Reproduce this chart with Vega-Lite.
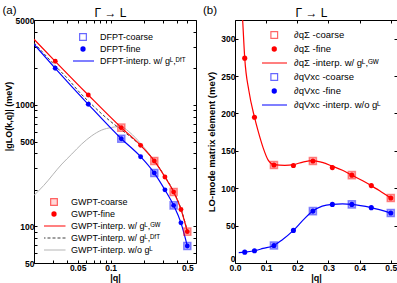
{
  "$schema": "https://vega.github.io/schema/vega-lite/v6.json",
  "padding": {"left": 1, "top": 3, "right": 0, "bottom": 0},
  "spacing": 39,
  "bounds": "flush",
  "resolve": {"scale": {"stroke": "independent", "color": "independent"}, "legend": {"stroke": "independent", "color": "independent"}},
  "config": {
    "font": "Liberation Sans",
    "view": {"stroke": "#000", "strokeWidth": 1},
    "axis": {"domain": false, "grid": false, "tickColor": "#000", "tickSize": -3, "tickWidth": 1, "labelFontSize": 8.5, "labelFontWeight": "bold", "labelColor": "#000", "titleFontSize": 9, "titleFontWeight": "bold", "titleColor": "#000", "labelPadding": 3, "labelOverlap": false, "labelFlush": false},
    "legend": {"labelFont": "Liberation Sans", "labelColor": "#000", "labelFontSize": 9, "padding": 0, "rowPadding": 2}
  },
  "datasets": {
    "aBlueFine": [
      {"q": 0.03125, "v": 2002, "s": "DFPT-fine"}, {"q": 0.0625, "v": 1012, "s": "DFPT-fine"}, {"q": 0.125, "v": 527, "s": "DFPT-fine"},
      {"q": 0.1875, "v": 375, "s": "DFPT-fine"}, {"q": 0.25, "v": 275, "s": "DFPT-fine"}, {"q": 0.3125, "v": 200, "s": "DFPT-fine"},
      {"q": 0.375, "v": 149, "s": "DFPT-fine"}, {"q": 0.4375, "v": 107, "s": "DFPT-fine"}, {"q": 0.5, "v": 69, "s": "DFPT-fine"}
    ],
    "aBlueCoarse": [
      {"q": 0.125, "v": 527, "s": "DFPT-coarse"}, {"q": 0.25, "v": 275, "s": "DFPT-coarse"}, {"q": 0.375, "v": 149, "s": "DFPT-coarse"}, {"q": 0.5, "v": 69, "s": "DFPT-coarse"}
    ],
    "aBlueLine": [
      {"q": 0.02, "v": 3158, "s": "DFPT-interp. w/ gᴸ,ᴰᶠᵀ"}, {"q": 0.03125, "v": 2002, "s": "DFPT-interp. w/ gᴸ,ᴰᶠᵀ"}, {"q": 0.0625, "v": 1012, "s": "DFPT-interp. w/ gᴸ,ᴰᶠᵀ"},
      {"q": 0.125, "v": 527, "s": "DFPT-interp. w/ gᴸ,ᴰᶠᵀ"}, {"q": 0.1875, "v": 375, "s": "DFPT-interp. w/ gᴸ,ᴰᶠᵀ"}, {"q": 0.25, "v": 275, "s": "DFPT-interp. w/ gᴸ,ᴰᶠᵀ"},
      {"q": 0.3125, "v": 200, "s": "DFPT-interp. w/ gᴸ,ᴰᶠᵀ"}, {"q": 0.375, "v": 149, "s": "DFPT-interp. w/ gᴸ,ᴰᶠᵀ"}, {"q": 0.4375, "v": 107, "s": "DFPT-interp. w/ gᴸ,ᴰᶠᵀ"},
      {"q": 0.5, "v": 69, "s": "DFPT-interp. w/ gᴸ,ᴰᶠᵀ"}
    ],
    "aRedFine": [
      {"q": 0.03125, "v": 2286, "s": "GWPT-fine"}, {"q": 0.0625, "v": 1207, "s": "GWPT-fine"}, {"q": 0.125, "v": 650, "s": "GWPT-fine"},
      {"q": 0.1875, "v": 465, "s": "GWPT-fine"}, {"q": 0.25, "v": 346, "s": "GWPT-fine"}, {"q": 0.3125, "v": 255, "s": "GWPT-fine"},
      {"q": 0.375, "v": 192, "s": "GWPT-fine"}, {"q": 0.4375, "v": 138, "s": "GWPT-fine"}, {"q": 0.5, "v": 90.6, "s": "GWPT-fine"}
    ],
    "aRedCoarse": [
      {"q": 0.125, "v": 650, "s": "GWPT-coarse"}, {"q": 0.25, "v": 346, "s": "GWPT-coarse"}, {"q": 0.375, "v": 192, "s": "GWPT-coarse"}, {"q": 0.5, "v": 90.6, "s": "GWPT-coarse"}
    ],
    "aRedLine": [
      {"q": 0.02, "v": 3470, "s": "GWPT-interp. w/ gᴸ,ᴳᵂ"}, {"q": 0.03125, "v": 2286, "s": "GWPT-interp. w/ gᴸ,ᴳᵂ"}, {"q": 0.0625, "v": 1207, "s": "GWPT-interp. w/ gᴸ,ᴳᵂ"},
      {"q": 0.125, "v": 650, "s": "GWPT-interp. w/ gᴸ,ᴳᵂ"}, {"q": 0.1875, "v": 465, "s": "GWPT-interp. w/ gᴸ,ᴳᵂ"}, {"q": 0.25, "v": 346, "s": "GWPT-interp. w/ gᴸ,ᴳᵂ"},
      {"q": 0.3125, "v": 255, "s": "GWPT-interp. w/ gᴸ,ᴳᵂ"}, {"q": 0.375, "v": 192, "s": "GWPT-interp. w/ gᴸ,ᴳᵂ"}, {"q": 0.4375, "v": 138, "s": "GWPT-interp. w/ gᴸ,ᴳᵂ"},
      {"q": 0.5, "v": 90.6, "s": "GWPT-interp. w/ gᴸ,ᴳᵂ"}
    ],
    "aDashLine": [
      {"q": 0.02, "v": 3250, "s": "GWPT-interp. w/ gᴸ,ᴰᶠᵀ"}, {"q": 0.03125, "v": 2100, "s": "GWPT-interp. w/ gᴸ,ᴰᶠᵀ"}, {"q": 0.0413, "v": 1617, "s": "GWPT-interp. w/ gᴸ,ᴰᶠᵀ"},
      {"q": 0.0526, "v": 1257, "s": "GWPT-interp. w/ gᴸ,ᴰᶠᵀ"}, {"q": 0.0625, "v": 1075, "s": "GWPT-interp. w/ gᴸ,ᴰᶠᵀ"}, {"q": 0.1, "v": 730, "s": "GWPT-interp. w/ gᴸ,ᴰᶠᵀ"},
      {"q": 0.125, "v": 625, "s": "GWPT-interp. w/ gᴸ,ᴰᶠᵀ"}, {"q": 0.1875, "v": 462, "s": "GWPT-interp. w/ gᴸ,ᴰᶠᵀ"}, {"q": 0.25, "v": 347, "s": "GWPT-interp. w/ gᴸ,ᴰᶠᵀ"},
      {"q": 0.3125, "v": 257, "s": "GWPT-interp. w/ gᴸ,ᴰᶠᵀ"}, {"q": 0.375, "v": 194, "s": "GWPT-interp. w/ gᴸ,ᴰᶠᵀ"}, {"q": 0.4375, "v": 140, "s": "GWPT-interp. w/ gᴸ,ᴰᶠᵀ"},
      {"q": 0.5, "v": 92, "s": "GWPT-interp. w/ gᴸ,ᴰᶠᵀ"}
    ],
    "aGrayLine": [
      {"q": 0.02, "v": 180, "s": "GWPT-interp. w/o gᴸ"}, {"q": 0.0245, "v": 217, "s": "GWPT-interp. w/o gᴸ"}, {"q": 0.0359, "v": 326, "s": "GWPT-interp. w/o gᴸ"},
      {"q": 0.0442, "v": 394, "s": "GWPT-interp. w/o gᴸ"}, {"q": 0.0545, "v": 477, "s": "GWPT-interp. w/o gᴸ"}, {"q": 0.0672, "v": 557, "s": "GWPT-interp. w/o gᴸ"},
      {"q": 0.0828, "v": 621, "s": "GWPT-interp. w/o gᴸ"}, {"q": 0.102, "v": 652, "s": "GWPT-interp. w/o gᴸ"}, {"q": 0.115, "v": 662, "s": "GWPT-interp. w/o gᴸ"},
      {"q": 0.13, "v": 650, "s": "GWPT-interp. w/o gᴸ"}, {"q": 0.15, "v": 592, "s": "GWPT-interp. w/o gᴸ"}, {"q": 0.1875, "v": 482, "s": "GWPT-interp. w/o gᴸ"},
      {"q": 0.22, "v": 405, "s": "GWPT-interp. w/o gᴸ"}, {"q": 0.25, "v": 348, "s": "GWPT-interp. w/o gᴸ"}, {"q": 0.3125, "v": 257, "s": "GWPT-interp. w/o gᴸ"},
      {"q": 0.375, "v": 193, "s": "GWPT-interp. w/o gᴸ"}, {"q": 0.4375, "v": 139, "s": "GWPT-interp. w/o gᴸ"}, {"q": 0.5, "v": 91, "s": "GWPT-interp. w/o gᴸ"}
    ],
    "bRedFine": [
      {"q": 0.03125, "v": 274, "s": "∂qΣ -fine"}, {"q": 0.0625, "v": 195, "s": "∂qΣ -fine"}, {"q": 0.125, "v": 131, "s": "∂qΣ -fine"},
      {"q": 0.1875, "v": 130.5, "s": "∂qΣ -fine"}, {"q": 0.25, "v": 136.5, "s": "∂qΣ -fine"}, {"q": 0.3125, "v": 127.6, "s": "∂qΣ -fine"},
      {"q": 0.375, "v": 117.5, "s": "∂qΣ -fine"}, {"q": 0.4375, "v": 103.5, "s": "∂qΣ -fine"}, {"q": 0.5, "v": 86.9, "s": "∂qΣ -fine"}
    ],
    "bRedCoarse": [
      {"q": 0.125, "v": 131, "s": "∂qΣ -coarse"}, {"q": 0.25, "v": 136.5, "s": "∂qΣ -coarse"}, {"q": 0.375, "v": 117.5, "s": "∂qΣ -coarse"}, {"q": 0.5, "v": 86.9, "s": "∂qΣ -coarse"}
    ],
    "bRedLine": [
      {"q": 0.02, "v": 362, "s": "∂qΣ -interp. w/ gᴸ,ᴳᵂ"}, {"q": 0.0246, "v": 325, "s": "∂qΣ -interp. w/ gᴸ,ᴳᵂ"}, {"q": 0.03125, "v": 274, "s": "∂qΣ -interp. w/ gᴸ,ᴳᵂ"},
      {"q": 0.0447, "v": 230, "s": "∂qΣ -interp. w/ gᴸ,ᴳᵂ"}, {"q": 0.0625, "v": 195, "s": "∂qΣ -interp. w/ gᴸ,ᴳᵂ"}, {"q": 0.0745, "v": 176, "s": "∂qΣ -interp. w/ gᴸ,ᴳᵂ"},
      {"q": 0.0904, "v": 154, "s": "∂qΣ -interp. w/ gᴸ,ᴳᵂ"}, {"q": 0.106, "v": 138, "s": "∂qΣ -interp. w/ gᴸ,ᴳᵂ"}, {"q": 0.125, "v": 131.5, "s": "∂qΣ -interp. w/ gᴸ,ᴳᵂ"},
      {"q": 0.16, "v": 130.5, "s": "∂qΣ -interp. w/ gᴸ,ᴳᵂ"}, {"q": 0.1875, "v": 131.5, "s": "∂qΣ -interp. w/ gᴸ,ᴳᵂ"}, {"q": 0.218, "v": 135, "s": "∂qΣ -interp. w/ gᴸ,ᴳᵂ"},
      {"q": 0.25, "v": 137, "s": "∂qΣ -interp. w/ gᴸ,ᴳᵂ"}, {"q": 0.28, "v": 134.5, "s": "∂qΣ -interp. w/ gᴸ,ᴳᵂ"}, {"q": 0.3125, "v": 129.5, "s": "∂qΣ -interp. w/ gᴸ,ᴳᵂ"},
      {"q": 0.345, "v": 124, "s": "∂qΣ -interp. w/ gᴸ,ᴳᵂ"}, {"q": 0.375, "v": 117.5, "s": "∂qΣ -interp. w/ gᴸ,ᴳᵂ"}, {"q": 0.41, "v": 110, "s": "∂qΣ -interp. w/ gᴸ,ᴳᵂ"},
      {"q": 0.4375, "v": 103.5, "s": "∂qΣ -interp. w/ gᴸ,ᴳᵂ"}, {"q": 0.47, "v": 95, "s": "∂qΣ -interp. w/ gᴸ,ᴳᵂ"}, {"q": 0.5, "v": 86.9, "s": "∂qΣ -interp. w/ gᴸ,ᴳᵂ"}
    ],
    "bBlueFine": [
      {"q": 0.03125, "v": 14.5, "s": "∂qVxc -fine"}, {"q": 0.0625, "v": 16.4, "s": "∂qVxc -fine"}, {"q": 0.125, "v": 23.5, "s": "∂qVxc -fine"},
      {"q": 0.1875, "v": 43.6, "s": "∂qVxc -fine"}, {"q": 0.25, "v": 69.4, "s": "∂qVxc -fine"}, {"q": 0.3125, "v": 78.4, "s": "∂qVxc -fine"},
      {"q": 0.375, "v": 78.4, "s": "∂qVxc -fine"}, {"q": 0.4375, "v": 74, "s": "∂qVxc -fine"}, {"q": 0.5, "v": 66.8, "s": "∂qVxc -fine"}
    ],
    "bBlueCoarse": [
      {"q": 0.125, "v": 23.5, "s": "∂qVxc -coarse"}, {"q": 0.25, "v": 69.4, "s": "∂qVxc -coarse"}, {"q": 0.375, "v": 78.4, "s": "∂qVxc -coarse"}, {"q": 0.5, "v": 66.8, "s": "∂qVxc -coarse"}
    ],
    "bBlueLine": [
      {"q": 0.012, "v": 14, "s": "∂qVxc -interp. w/o gᴸ"}, {"q": 0.03125, "v": 14.5, "s": "∂qVxc -interp. w/o gᴸ"}, {"q": 0.0625, "v": 16.4, "s": "∂qVxc -interp. w/o gᴸ"},
      {"q": 0.09, "v": 19.5, "s": "∂qVxc -interp. w/o gᴸ"}, {"q": 0.125, "v": 23.5, "s": "∂qVxc -interp. w/o gᴸ"}, {"q": 0.15, "v": 30.5, "s": "∂qVxc -interp. w/o gᴸ"},
      {"q": 0.1875, "v": 43.6, "s": "∂qVxc -interp. w/o gᴸ"}, {"q": 0.22, "v": 58, "s": "∂qVxc -interp. w/o gᴸ"}, {"q": 0.25, "v": 69.4, "s": "∂qVxc -interp. w/o gᴸ"},
      {"q": 0.28, "v": 76, "s": "∂qVxc -interp. w/o gᴸ"}, {"q": 0.3125, "v": 78.4, "s": "∂qVxc -interp. w/o gᴸ"}, {"q": 0.345, "v": 79, "s": "∂qVxc -interp. w/o gᴸ"},
      {"q": 0.375, "v": 78.4, "s": "∂qVxc -interp. w/o gᴸ"}, {"q": 0.4375, "v": 74, "s": "∂qVxc -interp. w/o gᴸ"}, {"q": 0.5, "v": 66.8, "s": "∂qVxc -interp. w/o gᴸ"}
    ]
  },
  "hconcat": [
    {
      "width": 162,
      "height": 243,
      "resolve": {"axis": {"x": "independent", "y": "independent"}},
      "layer": [
        {
          "data": {"name": "aGrayLine"},
          "mark": {"type": "line", "interpolate": "monotone", "strokeWidth": 1, "clip": true},
          "encoding": {
            "x": {"field": "q", "type": "quantitative", "scale": {"type": "log", "domain": [0.02, 0.6], "nice": false},
                  "axis": {"orient": "bottom", "title": "|q|", "titlePadding": 2, "values": [0.02, 0.03, 0.04, 0.05, 0.06, 0.07, 0.08, 0.09, 0.1, 0.2, 0.3, 0.4, 0.5],
                           "labelExpr": "datum.value === 0.05 ? '0.05' : datum.value === 0.1 ? '0.1' : datum.value === 0.5 ? '0.5' : ''"}},
            "y": {"field": "v", "type": "quantitative", "scale": {"type": "log", "domain": [50, 5000], "nice": false},
                  "axis": {"orient": "left", "title": "|gLO(k,q)| (meV)", "titlePadding": 2, "titleY": 96,
                           "values": [50, 60, 70, 80, 90, 100, 200, 300, 400, 500, 600, 700, 800, 900, 1000, 2000, 3000, 4000, 5000],
                           "labelExpr": "datum.value === 50 || datum.value === 100 || datum.value === 500 || datum.value === 1000 || datum.value === 5000 ? '' + datum.value : ''"}},
            "color": {"field": "s", "type": "nominal",
                       "scale": {"domain": ["GWPT-coarse", "GWPT-fine", "GWPT-interp. w/ gᴸ,ᴳᵂ", "GWPT-interp. w/ gᴸ,ᴰᶠᵀ", "GWPT-interp. w/o gᴸ"], "range": ["#ff0000", "#ff0000", "#ff0000", "#404040", "#b4b4b4"]},
                       "legend": {"title": null, "orient": "none", "legendX": 10, "legendY": 177, "clipHeight": 10, "symbolOffset": 5.5, "labelOffset": 12.5,
                                  "encode": {"symbols": {"update": {
                                    "shape": {"signal": "datum.index === 0 ? 'square' : datum.index === 1 ? 'circle' : 'stroke'"},
                                    "size": {"signal": "datum.index === 0 ? 45 : datum.index === 1 ? 28 : 530"},
                                    "fill": {"signal": "datum.index <= 1 ? '#ff0000' : 'transparent'"},
                                    "fillOpacity": {"signal": "datum.index === 0 ? 0.15 : datum.index === 1 ? 1 : 0"},
                                    "stroke": {"signal": "datum.index === 3 ? '#404040' : datum.index === 4 ? '#b4b4b4' : '#ff0000'"},
                                    "strokeOpacity": {"signal": "datum.index === 0 ? 0.6 : 1"},
                                    "strokeDash": {"signal": "datum.index === 3 ? [3, 2] : [1, 0]"},
                                    "strokeWidth": {"signal": "datum.index === 1 ? 0 : 1.2"},
                                    "opacity": {"value": 1}
                                  }}}}}
          }
        },
        {
          "data": {"name": "aDashLine"},
          "mark": {"type": "line", "interpolate": "monotone", "strokeWidth": 1, "strokeDash": [3, 2], "clip": true},
          "encoding": {
            "x": {"field": "q", "type": "quantitative", "scale": {"type": "log", "domain": [0.02, 0.6], "nice": false},
                  "axis": {"orient": "top", "labels": false, "values": [0.02, 0.03, 0.04, 0.05, 0.06, 0.07, 0.08, 0.09, 0.1, 0.2, 0.3, 0.4, 0.5],
                           "title": "Γ → L", "titleFontSize": 12, "titleFontWeight": "normal", "titleX": 76, "titleY": -4, "titleAlign": "center", "titleBaseline": "alphabetic"}},
            "y": {"field": "v", "type": "quantitative", "scale": {"type": "log", "domain": [50, 5000], "nice": false},
                  "axis": {"orient": "right", "labels": false, "values": [50, 60, 70, 80, 90, 100, 200, 300, 400, 500, 600, 700, 800, 900, 1000, 2000, 3000, 4000, 5000],
                           "title": "(a)", "titleFontSize": 11.5, "titleFontWeight": "normal", "titleAngle": 0, "titleX": -194, "titleY": -10, "titleAlign": "left", "titleBaseline": "middle"}},
            "color": {"field": "s", "type": "nominal", "legend": null,
                       "scale": {"domain": ["GWPT-coarse", "GWPT-fine", "GWPT-interp. w/ gᴸ,ᴳᵂ", "GWPT-interp. w/ gᴸ,ᴰᶠᵀ", "GWPT-interp. w/o gᴸ"], "range": ["#ff0000", "#ff0000", "#ff0000", "#404040", "#b4b4b4"]}}
          }
        },
        {
          "data": {"name": "aRedLine"},
          "mark": {"type": "line", "interpolate": "monotone", "strokeWidth": 1.2, "clip": true},
          "encoding": {
            "x": {"field": "q", "type": "quantitative", "scale": {"type": "log", "domain": [0.02, 0.6], "nice": false}, "axis": null},
            "y": {"field": "v", "type": "quantitative", "scale": {"type": "log", "domain": [50, 5000], "nice": false}, "axis": null},
            "color": {"field": "s", "type": "nominal", "legend": null,
                       "scale": {"domain": ["GWPT-coarse", "GWPT-fine", "GWPT-interp. w/ gᴸ,ᴳᵂ", "GWPT-interp. w/ gᴸ,ᴰᶠᵀ", "GWPT-interp. w/o gᴸ"], "range": ["#ff0000", "#ff0000", "#ff0000", "#404040", "#b4b4b4"]}}
          }
        },
        {
          "data": {"name": "aBlueLine"},
          "mark": {"type": "line", "interpolate": "monotone", "strokeWidth": 1.2, "clip": true},
          "encoding": {
            "x": {"field": "q", "type": "quantitative", "scale": {"type": "log", "domain": [0.02, 0.6], "nice": false}, "axis": null},
            "y": {"field": "v", "type": "quantitative", "scale": {"type": "log", "domain": [50, 5000], "nice": false}, "axis": null},
            "stroke": {"field": "s", "type": "nominal",
                      "scale": {"domain": ["DFPT-coarse", "DFPT-fine", "DFPT-interp. w/ gᴸ,ᴰᶠᵀ"], "range": ["#0000ff", "#0000ff", "#0000ff"]},
                      "legend": {"title": null, "orient": "none", "legendX": 39, "legendY": 12, "clipHeight": 10, "symbolOffset": 5.5, "labelOffset": 12.5,
                                 "encode": {"symbols": {"update": {
                                   "shape": {"signal": "datum.index === 0 ? 'square' : datum.index === 1 ? 'circle' : 'stroke'"},
                                   "size": {"signal": "datum.index === 0 ? 45 : datum.index === 1 ? 28 : 484"},
                                   "fill": {"signal": "datum.index === 1 ? '#0000ff' : 'transparent'"},
                                   "strokeOpacity": {"signal": "datum.index === 0 ? 0.6 : 1"},
                                   "strokeWidth": {"signal": "datum.index === 1 ? 0 : 1.2"},
                                   "opacity": {"value": 1}
                                 }}}}}
          }
        },
        {
          "data": {"name": "aBlueCoarse"},
          "mark": {"type": "point", "shape": "square", "filled": true, "size": 50, "fill": "#0000ff", "fillOpacity": 0.25, "strokeOpacity": 0.45, "strokeWidth": 1.5, "opacity": 1},
          "encoding": {
            "x": {"field": "q", "type": "quantitative", "scale": {"type": "log", "domain": [0.02, 0.6], "nice": false}, "axis": null},
            "y": {"field": "v", "type": "quantitative", "scale": {"type": "log", "domain": [50, 5000], "nice": false}, "axis": null},
            "stroke": {"field": "s", "type": "nominal", "legend": null,
                      "scale": {"domain": ["DFPT-coarse", "DFPT-fine", "DFPT-interp. w/ gᴸ,ᴰᶠᵀ"], "range": ["#0000ff", "#0000ff", "#0000ff"]}}
          }
        },
        {
          "data": {"name": "aRedCoarse"},
          "mark": {"type": "point", "shape": "square", "filled": true, "size": 50, "stroke": "#ff0000", "fillOpacity": 0.25, "strokeOpacity": 0.45, "strokeWidth": 1.5, "opacity": 1},
          "encoding": {
            "x": {"field": "q", "type": "quantitative", "scale": {"type": "log", "domain": [0.02, 0.6], "nice": false}, "axis": null},
            "y": {"field": "v", "type": "quantitative", "scale": {"type": "log", "domain": [50, 5000], "nice": false}, "axis": null},
            "color": {"field": "s", "type": "nominal", "legend": null,
                       "scale": {"domain": ["GWPT-coarse", "GWPT-fine", "GWPT-interp. w/ gᴸ,ᴳᵂ", "GWPT-interp. w/ gᴸ,ᴰᶠᵀ", "GWPT-interp. w/o gᴸ"], "range": ["#ff0000", "#ff0000", "#ff0000", "#404040", "#b4b4b4"]}}
          }
        },
        {
          "data": {"name": "aBlueFine"},
          "mark": {"type": "point", "shape": "circle", "filled": true, "fill": "#0000ff", "size": 24, "strokeWidth": 0, "opacity": 1},
          "encoding": {
            "x": {"field": "q", "type": "quantitative", "scale": {"type": "log", "domain": [0.02, 0.6], "nice": false}, "axis": null},
            "y": {"field": "v", "type": "quantitative", "scale": {"type": "log", "domain": [50, 5000], "nice": false}, "axis": null},
            "stroke": {"field": "s", "type": "nominal", "legend": null,
                      "scale": {"domain": ["DFPT-coarse", "DFPT-fine", "DFPT-interp. w/ gᴸ,ᴰᶠᵀ"], "range": ["#0000ff", "#0000ff", "#0000ff"]}}
          }
        },
        {
          "data": {"name": "aRedFine"},
          "mark": {"type": "point", "shape": "circle", "filled": true, "size": 24, "strokeWidth": 0, "opacity": 1},
          "encoding": {
            "x": {"field": "q", "type": "quantitative", "scale": {"type": "log", "domain": [0.02, 0.6], "nice": false}, "axis": null},
            "y": {"field": "v", "type": "quantitative", "scale": {"type": "log", "domain": [50, 5000], "nice": false}, "axis": null},
            "color": {"field": "s", "type": "nominal", "legend": null,
                       "scale": {"domain": ["GWPT-coarse", "GWPT-fine", "GWPT-interp. w/ gᴸ,ᴳᵂ", "GWPT-interp. w/ gᴸ,ᴰᶠᵀ", "GWPT-interp. w/o gᴸ"], "range": ["#ff0000", "#ff0000", "#ff0000", "#404040", "#b4b4b4"]}}
          }
        }
      ]
    },
    {
      "width": 162,
      "height": 243,
      "resolve": {"axis": {"x": "independent", "y": "independent"}},
      "layer": [
        {
          "data": {"name": "bRedLine"},
          "mark": {"type": "line", "interpolate": "monotone", "strokeWidth": 1.2, "clip": true},
          "encoding": {
            "x": {"field": "q", "type": "quantitative", "scale": {"domain": [0, 0.52], "nice": false, "zero": false},
                  "axis": {"orient": "bottom", "title": "|q|", "titlePadding": 2, "values": [0, 0.1, 0.2, 0.3, 0.4, 0.5], "format": ".1f"}},
            "y": {"field": "v", "type": "quantitative", "scale": {"domain": [0, 325], "nice": false},
                  "axis": {"orient": "left", "title": "LO-mode matrix element (meV)", "titleFontSize": 9.5, "titlePadding": 4, "values": [0, 50, 100, 150, 200, 250, 300], "format": "d",
                           "labelBaseline": {"condition": {"test": "datum.value === 0", "value": "bottom"}, "value": "middle"}}},
            "stroke": {"field": "s", "type": "nominal",
                      "scale": {"domain": ["∂qΣ -coarse", "∂qΣ -fine", "∂qΣ -interp. w/ gᴸ,ᴳᵂ", "∂qVxc -coarse", "∂qVxc -fine", "∂qVxc -interp. w/o gᴸ"], "range": ["#ff0000", "#ff0000", "#ff0000", "#0000ff", "#0000ff", "#0000ff"]},
                      "legend": {"title": null, "orient": "none", "legendX": 27, "legendY": 9, "clipHeight": 12, "labelFontSize": 9.5, "symbolOffset": 7.5, "labelOffset": 15,
                                 "encode": {"symbols": {"update": {
                                   "shape": {"signal": "datum.index % 3 === 0 ? 'square' : datum.index % 3 === 1 ? 'circle' : 'stroke'"},
                                   "size": {"signal": "datum.index % 3 === 0 ? 45 : datum.index % 3 === 1 ? 28 : 655"},
                                   "fill": {"signal": "datum.index === 1 ? '#ff0000' : datum.index === 4 ? '#0000ff' : 'transparent'"},
                                   "strokeOpacity": {"signal": "datum.index % 3 === 0 ? 0.6 : 1"},
                                   "strokeWidth": {"signal": "datum.index % 3 === 1 ? 0 : 1.2"},
                                   "opacity": {"value": 1}
                                 }}}}}
          }
        },
        {
          "data": {"name": "bBlueLine"},
          "mark": {"type": "line", "interpolate": "monotone", "strokeWidth": 1.2, "clip": true},
          "encoding": {
            "x": {"field": "q", "type": "quantitative", "scale": {"domain": [0, 0.52], "nice": false, "zero": false},
                  "axis": {"orient": "top", "labels": false, "values": [0, 0.1, 0.2, 0.3, 0.4, 0.5],
                           "title": "Γ → L", "titleFontSize": 12, "titleFontWeight": "normal", "titleX": 76, "titleY": -4, "titleAlign": "center", "titleBaseline": "alphabetic"}},
            "y": {"field": "v", "type": "quantitative", "scale": {"domain": [0, 325], "nice": false},
                  "axis": {"orient": "right", "labels": false, "values": [0, 50, 100, 150, 200, 250, 300],
                           "title": "(b)", "titleFontSize": 11.5, "titleFontWeight": "normal", "titleAngle": 0, "titleX": -194.5, "titleY": -10, "titleAlign": "left", "titleBaseline": "middle"}},
            "stroke": {"field": "s", "type": "nominal", "legend": null,
                      "scale": {"domain": ["∂qΣ -coarse", "∂qΣ -fine", "∂qΣ -interp. w/ gᴸ,ᴳᵂ", "∂qVxc -coarse", "∂qVxc -fine", "∂qVxc -interp. w/o gᴸ"], "range": ["#ff0000", "#ff0000", "#ff0000", "#0000ff", "#0000ff", "#0000ff"]}}
          }
        },
        {
          "data": {"name": "bRedCoarse"},
          "mark": {"type": "point", "shape": "square", "filled": true, "size": 50, "fill": "#ff0000", "fillOpacity": 0.25, "strokeOpacity": 0.45, "strokeWidth": 1.5, "opacity": 1},
          "encoding": {
            "x": {"field": "q", "type": "quantitative", "scale": {"domain": [0, 0.52], "nice": false, "zero": false}, "axis": null},
            "y": {"field": "v", "type": "quantitative", "scale": {"domain": [0, 325], "nice": false}, "axis": null},
            "stroke": {"field": "s", "type": "nominal", "legend": null,
                      "scale": {"domain": ["∂qΣ -coarse", "∂qΣ -fine", "∂qΣ -interp. w/ gᴸ,ᴳᵂ", "∂qVxc -coarse", "∂qVxc -fine", "∂qVxc -interp. w/o gᴸ"], "range": ["#ff0000", "#ff0000", "#ff0000", "#0000ff", "#0000ff", "#0000ff"]}}
          }
        },
        {
          "data": {"name": "bBlueCoarse"},
          "mark": {"type": "point", "shape": "square", "filled": true, "size": 50, "fill": "#0000ff", "fillOpacity": 0.25, "strokeOpacity": 0.45, "strokeWidth": 1.5, "opacity": 1},
          "encoding": {
            "x": {"field": "q", "type": "quantitative", "scale": {"domain": [0, 0.52], "nice": false, "zero": false}, "axis": null},
            "y": {"field": "v", "type": "quantitative", "scale": {"domain": [0, 325], "nice": false}, "axis": null},
            "stroke": {"field": "s", "type": "nominal", "legend": null,
                      "scale": {"domain": ["∂qΣ -coarse", "∂qΣ -fine", "∂qΣ -interp. w/ gᴸ,ᴳᵂ", "∂qVxc -coarse", "∂qVxc -fine", "∂qVxc -interp. w/o gᴸ"], "range": ["#ff0000", "#ff0000", "#ff0000", "#0000ff", "#0000ff", "#0000ff"]}}
          }
        },
        {
          "data": {"name": "bRedFine"},
          "mark": {"type": "point", "shape": "circle", "filled": true, "fill": "#ff0000", "size": 26, "strokeWidth": 0, "opacity": 1},
          "encoding": {
            "x": {"field": "q", "type": "quantitative", "scale": {"domain": [0, 0.52], "nice": false, "zero": false}, "axis": null},
            "y": {"field": "v", "type": "quantitative", "scale": {"domain": [0, 325], "nice": false}, "axis": null},
            "stroke": {"field": "s", "type": "nominal", "legend": null,
                      "scale": {"domain": ["∂qΣ -coarse", "∂qΣ -fine", "∂qΣ -interp. w/ gᴸ,ᴳᵂ", "∂qVxc -coarse", "∂qVxc -fine", "∂qVxc -interp. w/o gᴸ"], "range": ["#ff0000", "#ff0000", "#ff0000", "#0000ff", "#0000ff", "#0000ff"]}}
          }
        },
        {
          "data": {"name": "bBlueFine"},
          "mark": {"type": "point", "shape": "circle", "filled": true, "fill": "#0000ff", "size": 26, "strokeWidth": 0, "opacity": 1},
          "encoding": {
            "x": {"field": "q", "type": "quantitative", "scale": {"domain": [0, 0.52], "nice": false, "zero": false}, "axis": null},
            "y": {"field": "v", "type": "quantitative", "scale": {"domain": [0, 325], "nice": false}, "axis": null},
            "stroke": {"field": "s", "type": "nominal", "legend": null,
                      "scale": {"domain": ["∂qΣ -coarse", "∂qΣ -fine", "∂qΣ -interp. w/ gᴸ,ᴳᵂ", "∂qVxc -coarse", "∂qVxc -fine", "∂qVxc -interp. w/o gᴸ"], "range": ["#ff0000", "#ff0000", "#ff0000", "#0000ff", "#0000ff", "#0000ff"]}}
          }
        }
      ]
    }
  ]
}
